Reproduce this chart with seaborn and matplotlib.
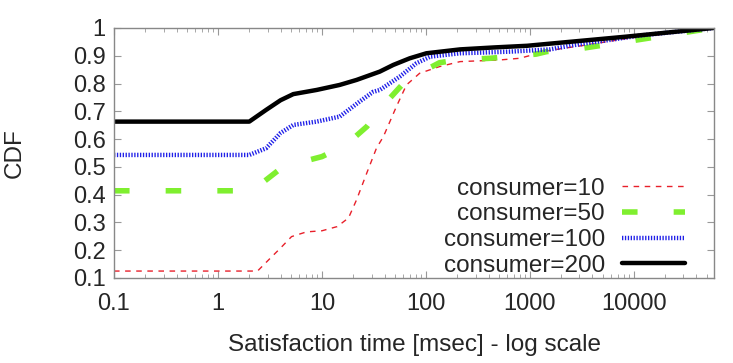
import numpy as np
import pandas as pd
import matplotlib
matplotlib.use("Agg")
import matplotlib.pyplot as plt
import seaborn as sns

# valores (tiempo en ms, CDF)
x_c10 = [0.1, 2.4, 3.2, 4.0, 5.1, 7.1, 10, 14, 18, 21.5, 27, 33.5, 39, 52, 65, 87, 135, 213, 515, 800, 1450, 2100, 3000, 8500, 58000]
y_c10 = [0.125, 0.125, 0.172, 0.208, 0.249, 0.266, 0.27, 0.285, 0.316, 0.381, 0.478, 0.568, 0.609, 0.717, 0.795, 0.837, 0.861, 0.879, 0.885, 0.891, 0.917, 0.927, 0.935, 0.962, 1.0]

x_c50 = [0.1, 2.2, 2.4, 4.2, 10, 17, 27, 32, 42, 65, 135, 200, 415, 1150, 1450, 3200, 8500, 58000]
y_c50 = [0.414, 0.414, 0.429, 0.50, 0.537, 0.579, 0.645, 0.68, 0.735, 0.813, 0.875, 0.885, 0.891, 0.906, 0.915, 0.927, 0.951, 1.0]

x_c100 = [0.1, 2.0, 2.9, 4.0, 5.3, 8.9, 14.8, 23, 31, 36, 56, 81, 110, 213, 650, 1560, 2500, 11500, 58000]
y_c100 = [0.543, 0.543, 0.567, 0.622, 0.651, 0.663, 0.681, 0.735, 0.77, 0.777, 0.825, 0.873, 0.897, 0.909, 0.915, 0.923, 0.937, 0.973, 1.0]

x_c200 = [0.1, 2.0, 2.9, 4.0, 5.3, 8.9, 14.8, 21.5, 36, 48.5, 70, 101, 213, 450, 940, 1950, 8500, 58000]
y_c200 = [0.663, 0.663, 0.705, 0.74, 0.762, 0.777, 0.795, 0.813, 0.843, 0.867, 0.891, 0.909, 0.923, 0.93, 0.936, 0.947, 0.969, 1.0]

labels = ["consumer=10", "consumer=50", "consumer=100", "consumer=200"]
xs = [x_c10, x_c50, x_c100, x_c200]
ys = [y_c10, y_c50, y_c100, y_c200]

colores = ["#e8202a", "#7fef2f", "#2020e8", "#000000"]
anchos = [1.0, 4.0, 3.2, 3.2]
estilos = [(0, (4, 4)), (0, (2.8, 6.5)), (0, (0.3, 0.35)), "-"]

sns.set_style("ticks")
plt.rcParams["font.family"] = ["Liberation Sans", "DejaVu Sans"]

fig = plt.figure(figsize=(7.33, 3.63), dpi=100)
ax = fig.add_axes([114 / 733, 85 / 363, 600 / 733, 250 / 363])

for lab, xv, yv, c, lw, ls in zip(labels, xs, ys, colores, anchos, estilos):
    df = pd.DataFrame({"t": xv, "cdf": yv})
    sns.lineplot(data=df, x="t", y="cdf", ax=ax, color=c, lw=lw,
                 linestyle=ls, label=lab, dash_capstyle="butt")

ax.set_xscale("log")
ax.set_xlim(0.1, 59000)
ax.set_ylim(0.1, 1.0)
ax.set_xticks([0.1, 1, 10, 100, 1000, 10000])
ax.set_xticklabels(["0.1", "1", "10", "100", "1000", "10000"])
ax.set_yticks(np.arange(0.1, 1.01, 0.1))
ax.set_yticklabels(["0.1", "0.2", "0.3", "0.4", "0.5", "0.6", "0.7", "0.8", "0.9", "1"])

for s in ax.spines.values():
    s.set_color("#888888")
    s.set_linewidth(1.0)
ax.tick_params(which="both", direction="in", top=True, right=True,
               color="#999999", labelsize=17)
ax.tick_params(axis="x", pad=10.5)
ax.tick_params(axis="y", pad=6)
ax.tick_params(which="major", length=5)
ax.tick_params(which="minor", length=3)
ax.yaxis.set_minor_locator(matplotlib.ticker.NullLocator())

ax.set_xlabel("Satisfaction time [msec] - log scale", fontsize=17.5, labelpad=14)
ax.set_ylabel("CDF", fontsize=17.5, labelpad=34)

ax.legend(loc="lower right", bbox_to_anchor=(0.952, 0.005), frameon=False,
          markerfirst=False, fontsize=17.5, handlelength=2.6,
          handletextpad=0.7, labelspacing=0.15, borderpad=0, borderaxespad=0)

fig.savefig("out.png", dpi=100)
